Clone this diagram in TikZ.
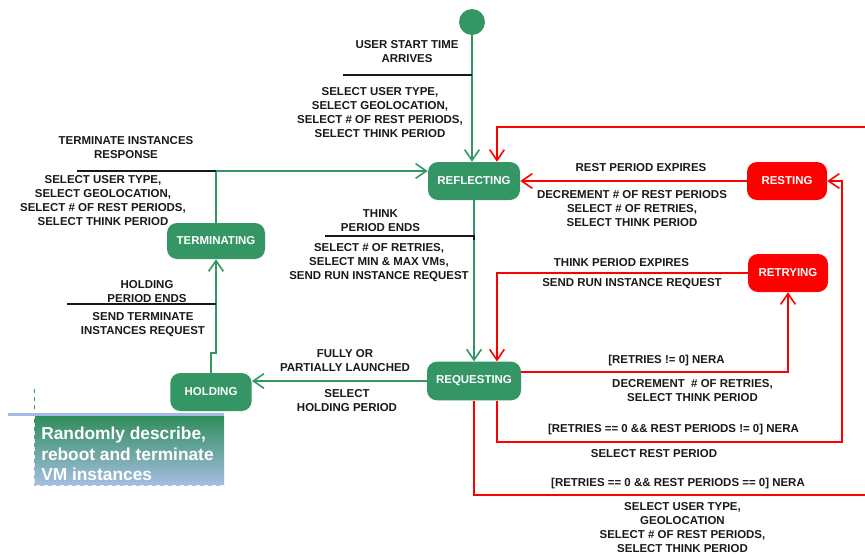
\documentclass[tikz,border=0pt]{standalone}
\usepackage{fontspec}
\setmainfont{Liberation Sans}
\usetikzlibrary{arrows.meta}
\definecolor{sgreen}{RGB}{51,150,100}
\definecolor{sred}{RGB}{255,0,0}
\definecolor{txt}{RGB}{25,25,25}
\definecolor{lav}{RGB}{165,185,225}
\definecolor{boxbot}{RGB}{165,190,225}
\definecolor{boxtop}{RGB}{45,140,90}
\begin{document}
\begin{tikzpicture}[x=0.75pt,y=-0.75pt,
  lbl/.style={text=txt,font=\fontsize{8.6}{10.5}\selectfont\bfseries,align=center,inner sep=0pt},
  statebox/.style={rounded corners=7.5pt,inner sep=0pt,text=white,font=\fontsize{8.6}{10.5}\selectfont\bfseries},
  gstate/.style={statebox,fill=sgreen},
  rstate/.style={statebox,fill=sred},
  tip/.style={-{Straight Barb[length=8pt,width=11pt,line width=1.2pt]}},
  gline/.style={draw=sgreen,line width=1.2pt,tip},
  rline/.style={draw=sred,line width=1.2pt,tip},
  guard/.style={draw=txt,line width=1.1pt}]
\useasboundingbox (0,0) rectangle (865,554);

% states
\node[circle,fill=sgreen,minimum size=19.5pt,inner sep=0pt] (start) at (472,22) {};
\node[gstate,minimum width=69pt,minimum height=28.5pt] (reflect) at (474,181) {REFLECTING};
\node[gstate,minimum width=70.5pt,minimum height=29pt] (req) at (474,381) {REQUESTING};
\node[gstate,minimum width=73.5pt,minimum height=27pt] (term) at (216,241) {TERMINATING};
\node[gstate,minimum width=61pt,minimum height=28.5pt] (hold) at (211,392) {HOLDING};
\node[rstate,minimum width=60pt,minimum height=28.5pt] (rest) at (787,181) {RESTING};
\node[rstate,minimum width=60pt,minimum height=28.5pt] (retry) at (788,273) {RETRYING};

% helper coordinates
\coordinate (enterR) at (866,127);
\coordinate (exitR) at (866,495);
\coordinate (r6) at (842,442);
\coordinate (hj) at (216,353);

% green transitions
\draw[gline] (start.south) -- (start.south |- reflect.north);
\draw[gline] (reflect.south) -- (req.north);
\draw[gline] (term.north) |- ([yshift=7.5pt]reflect.west);
\draw[gline] (hold.north) |- (hj) -- (term.south);
\draw[gline] (req.west) -- (req.west -| hold.east);

% red transitions
\draw[rline] (rest.west) -- (reflect.east);
\draw[rline] (retry.west) -| ([xshift=17.25pt]req.north);
\draw[rline] ([yshift=6.75pt]req.east) -| (retry.south);
\draw[rline] ([xshift=17.25pt]req.south) |- (r6) |- (rest.east);
\draw[draw=sred,line width=1.2pt] (req.south) |- (exitR);
\draw[rline] (enterR) -| ([xshift=17.25pt]reflect.north);

% guard lines
\coordinate (g1) at (343,75);
\coordinate (g2) at (77,171);
\coordinate (g3) at (325,236);
\coordinate (g4) at (67,304);
\draw[guard] (g1) -- (g1 -| start);
\draw[guard] (g2) -- (g2 -| term.north);
\draw[guard] (g3) -- (g3 -| reflect.south) -- ++(0,4);
\draw[guard] (g4) -- (g4 -| term.south);

% labels
\node[lbl] (t1) at (407,52) {USER START TIME\\ARRIVES};
\node[lbl] (t2) at (380,113) {SELECT USER TYPE,\\SELECT GEOLOCATION,\\SELECT \# OF REST PERIODS,\\SELECT THINK PERIOD};
\node[lbl] (t3) at (126,147.5) {TERMINATE INSTANCES\\RESPONSE};
\node[lbl] (t4) at (103,200.5) {SELECT USER TYPE,\\SELECT GEOLOCATION,\\SELECT \# OF REST PERIODS,\\SELECT THINK PERIOD};
\node[lbl] (t5) at (380.5,221) {THINK\\PERIOD ENDS};
\node[lbl] (t6) at (379,263) {SELECT \# OF RETRIES,\\SELECT MIN \& MAX VMs,\\SEND RUN INSTANCE REQUEST};
\node[lbl] (t7) at (147,292) {HOLDING\\PERIOD ENDS};
\node[lbl] (t8) at (143,325) {SEND TERMINATE\\INSTANCES REQUEST};
\node[lbl] (t9) at (345,361) {FULLY OR\\PARTIALLY LAUNCHED};
\node[lbl] (t10) at (347,400.5) {SELECT\\HOLDING PERIOD};
\node[lbl] (t11) at (641,168) {REST PERIOD EXPIRES};
\node[lbl] (t12) at (632,208.5) {DECREMENT \# OF REST PERIODS\\SELECT \# OF RETRIES,\\SELECT THINK PERIOD};
\node[lbl] (t13) at (621.5,263) {THINK PERIOD EXPIRES};
\node[lbl] (t14) at (632,284) {SEND RUN INSTANCE REQUEST};
\node[lbl] (t15) at (666.5,361) {[RETRIES != 0] NERA};
\node[lbl] (t16) at (692.5,390.5) {DECREMENT\ \ \# OF RETRIES,\\SELECT THINK PERIOD};
\node[lbl] (t17) at (673.5,430) {[RETRIES == 0 \&\& REST PERIODS != 0] NERA};
\node[lbl] (t18) at (654,454) {SELECT REST PERIOD};
\node[lbl] (t19) at (678,484) {[RETRIES == 0 \&\& REST PERIODS == 0] NERA};
\node[lbl] (t20) at (682.5,528) {SELECT USER TYPE,\\GEOLOCATION\\SELECT \# OF REST PERIODS,\\SELECT THINK PERIOD};

% note box bottom-left
\shade[top color=boxtop,bottom color=boxbot] (34,415) rectangle (224,485);
\draw[draw=white!80!boxbot,dashed,line width=0.6pt] (34,415) rectangle (224,485);
\draw[draw=sgreen,dashed,line width=0.6pt] (34,389) -- (34,414);
\fill[lav] (8,412.5) rectangle (224,416);
\node[anchor=west,inner sep=0pt,align=left,text=white,font=\fontsize{13}{15.4}\selectfont\bfseries] (note) at (41,454) {Randomly describe,\\reboot and terminate\\VM instances};
\end{tikzpicture}
\end{document}
